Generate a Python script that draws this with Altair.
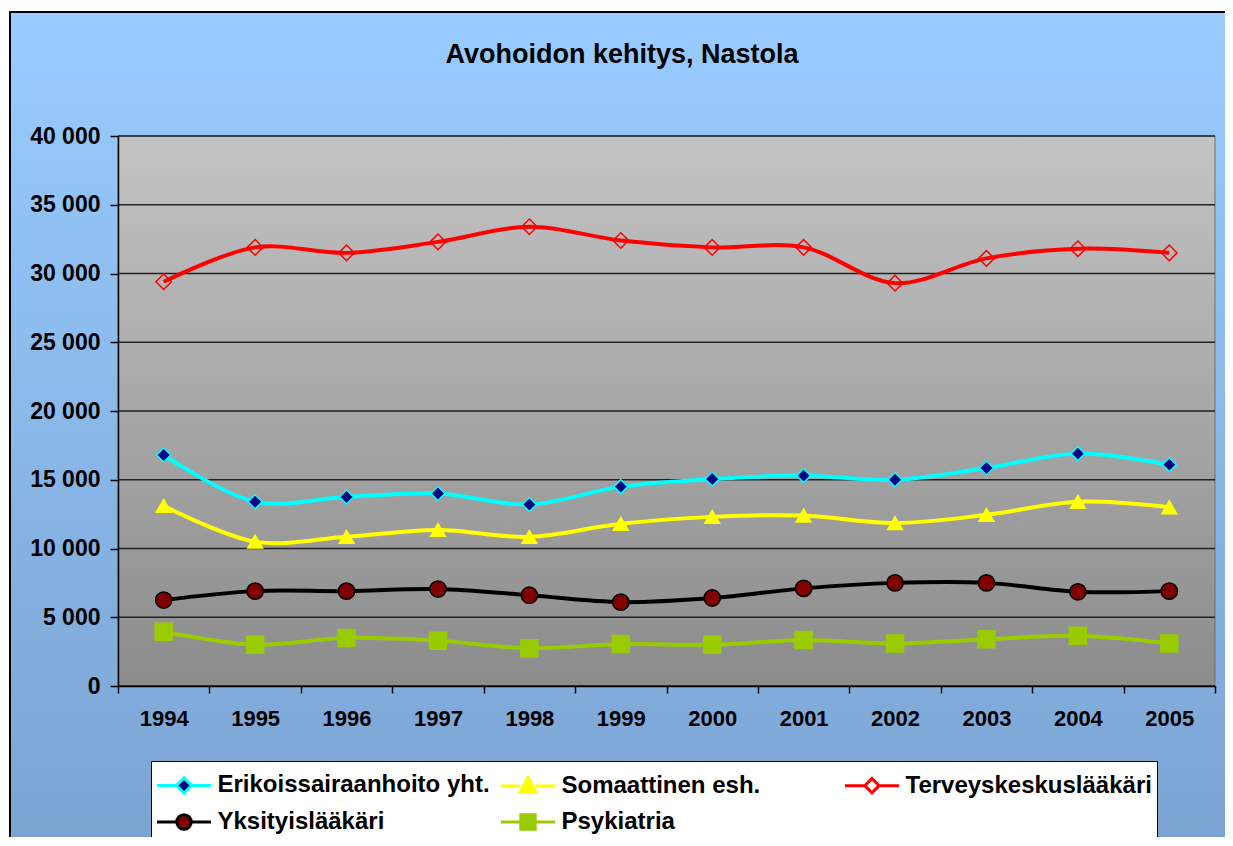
import altair as alt
import pandas as pd

# ---- data ----
years = [str(y) for y in range(1994, 2006)]
series = ["Erikoissairaanhoito yht.", "Somaattinen esh.", "Terveyskeskuslääkäri",
          "Yksityislääkäri", "Psykiatria"]
erikois = [16800, 13400, 13750, 14000, 13200, 14500, 15050, 15300, 15000, 15850, 16900, 16100]
somaatt = [13100, 10500, 10850, 11350, 10850, 11800, 12300, 12400, 11850, 12450, 13400, 13000]
terveys = [29400, 31900, 31500, 32300, 33400, 32400, 31900, 31900, 29300, 31100, 31800, 31500]
yksityis = [6250, 6900, 6900, 7050, 6600, 6100, 6400, 7100, 7500, 7500, 6850, 6900]
psyk = [3950, 3000, 3500, 3300, 2750, 3050, 3000, 3350, 3100, 3400, 3650, 3100]
y_ticks = list(range(0, 40001, 5000))
title_text = "Avohoidon kehitys, Nastola"

# ---- styles ----
line_colors = ["#00FFFF", "#FFFF00", "#FF0000", "#000000", "#99CC00"]
point_fill = ["#000080", "#FFFF00", "transparent", "#800000", "#99CC00"]
point_shapes = ["diamond", "triangle-up", "diamond", "circle", "square"]
point_sizes = [196, 289, 196, 150, 196]
legend_fill = ["#000080", "#FFFF00", "#FFFFFF", "#800000", "#99CC00"]
legend_shapes = [
    "M-1,0L0.08,0M0.92,0L2,0M0.5,-0.42L0.92,0L0.5,0.42L0.08,0Z",
    "M-1,0L0.05,0M0.95,0L2,0M0.5,-0.48L0.95,0.36L0.05,0.36Z",
    "M-1,0L0.1,0M0.9,0L2,0M0.5,-0.4L0.9,0L0.5,0.4L0.1,0Z",
    "M-1,0L0.1,0M0.9,0L2,0M0.1,0A0.4,0.4 0 1,0 0.9,0A0.4,0.4 0 1,0 0.1,0Z",
    "M-1,0L0.1,0M0.9,0L2,0M0.1,-0.4L0.9,-0.4L0.9,0.4L0.1,0.4Z",
]

W, H = 1097, 550
FONT = "Liberation Sans"

rows = []
for name, vals in zip(series, [erikois, somaatt, terveys, yksityis, psyk]):
    for yr, v in zip(years, vals):
        rows.append({"year": yr, "series": name, "value": v})
df = pd.DataFrame(rows)
grid_df = pd.DataFrame({"value": y_ticks})
one = pd.DataFrame({"a": [0]})

yaxis = alt.Axis(values=y_ticks, grid=False, tickSize=8, tickColor="black", tickWidth=1.5,
                 domainColor="black", domainWidth=1.5, labelFontSize=23, labelFontWeight="bold",
                 labelColor="black", labelFont=FONT, labelPadding=10, zindex=1,
                 labelExpr="replace(format(datum.value, ','), ',', ' ')")
yscale = alt.Scale(domain=[0, 40000], nice=False, zero=True)
Y = alt.Y("value:Q", scale=yscale, axis=yaxis, title=None)

xaxis = alt.Axis(tickBand="extent", tickSize=7, tickColor="black", tickWidth=1.5,
                 domainColor="black", domainWidth=1.5, labelAngle=0, labelFontSize=22,
                 labelFontWeight="bold", labelColor="black", labelFont=FONT, labelPadding=15,
                 grid=False, zindex=1)
X = alt.X("year:O", scale=alt.Scale(type="band", paddingInner=0, paddingOuter=0, domain=years),
          axis=xaxis, title=None, bandPosition=0.5)

outer_bg = alt.Chart(one).mark_rect(
    fill=alt.LinearGradient(gradient="linear", x1=0, x2=0, y1=0, y2=1,
                            stops=[alt.GradientStop(color="#99CCFF", offset=0),
                                   alt.GradientStop(color="#7AA3D2", offset=1)]),
    stroke="black", strokeWidth=2
).encode(x=alt.value(-108), x2=alt.value(1113), y=alt.value(-124), y2=alt.value(720))

plot_bg = alt.Chart(one).mark_rect(
    fill=alt.LinearGradient(gradient="linear", x1=0, x2=0, y1=0, y2=1,
                            stops=[alt.GradientStop(color="#C3C3C3", offset=0),
                                   alt.GradientStop(color="#8C8C8C", offset=1)]),
    stroke="#707070", strokeWidth=1
).encode(x=alt.value(0), x2=alt.value(W), y=alt.value(0), y2=alt.value(H))

grid = alt.Chart(grid_df).mark_rule(color="#222222", strokeWidth=1.3).encode(
    y=Y, x=alt.value(0), x2=alt.value(W))

lines = alt.Chart(df).mark_line(interpolate="catmull-rom", strokeWidth=4).encode(
    x=X, y=Y,
    stroke=alt.Stroke("series:N", scale=alt.Scale(domain=series, range=line_colors), legend=None),
    detail="series:N")

points = alt.Chart(df).mark_point(opacity=1, strokeWidth=1.5).encode(
    x=X, y=Y,
    shape=alt.Shape("series:N", scale=alt.Scale(domain=series, range=point_shapes), legend=None),
    fill=alt.Fill("series:N", scale=alt.Scale(domain=series, range=point_fill), legend=None),
    stroke=alt.Stroke("series:N", scale=alt.Scale(domain=series, range=line_colors), legend=None),
    size=alt.Size("series:N", scale=alt.Scale(domain=series, range=point_sizes), legend=None))

leg_kw = dict(orient="none", legendX=33, legendY=625, columns=3, direction="horizontal",
              title=None, symbolSize=1296, symbolStrokeWidth=3, symbolOpacity=1,
              labelFontSize=24, labelFontWeight="bold", labelFont=FONT, labelColor="black",
              labelLimit=600, labelOffset=23, columnPadding=4, rowPadding=3, padding=4.5,
              strokeColor="black", fillColor="white", gridAlign="all")

dummy = alt.Chart(df).mark_point(opacity=0).encode(
    x=X, y=Y,
    shape=alt.Shape("series:N", scale=alt.Scale(domain=series, range=legend_shapes),
                    legend=alt.Legend(**leg_kw)),
    fill=alt.Fill("series:N", scale=alt.Scale(domain=series, range=legend_fill),
                  legend=alt.Legend(**leg_kw)),
    stroke=alt.Stroke("series:N", scale=alt.Scale(domain=series, range=line_colors),
                      legend=alt.Legend(**leg_kw)))

title = alt.Chart(pd.DataFrame({"t": [title_text]})).mark_text(
    font=FONT, fontSize=27, fontWeight="bold", color="black", align="center",
    baseline="alphabetic").encode(text="t:N", x=alt.value(504), y=alt.value(-73))

chart = alt.layer(outer_bg, plot_bg, grid, lines, points, dummy, title).resolve_scale(
    shape="independent", fill="independent", stroke="independent", size="independent"
).properties(
    width=W, height=H,
    autosize=alt.AutoSizeParams(type="none"),
    padding={"left": 110, "top": 128, "right": 10, "bottom": 151},
    background="white",
).configure_view(stroke=None)

chart.save("out.html", embed_options={"renderer": "svg", "actions": False})
